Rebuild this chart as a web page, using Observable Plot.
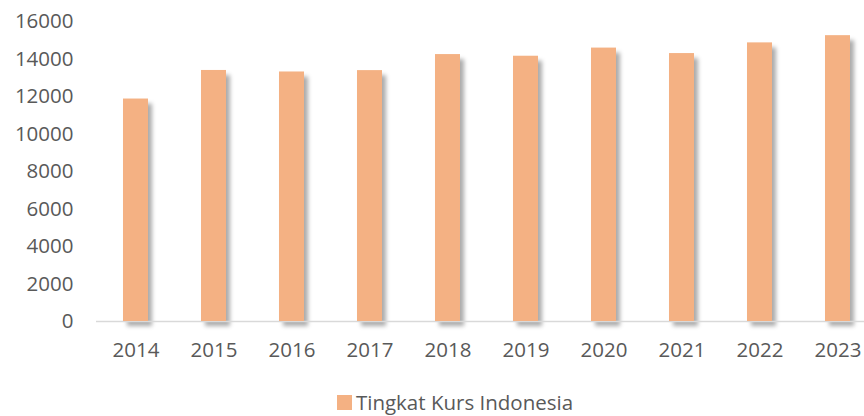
<!DOCTYPE html>
<html><head><meta charset="utf-8">
<script src="https://cdn.jsdelivr.net/npm/d3@7"></script>
<script src="https://cdn.jsdelivr.net/npm/@observablehq/plot@0.6"></script>
<style>
body{margin:0;background:#fff;overflow:hidden;}
#legend{height:28px;margin-top:8px;font-family:"Open Sans",sans-serif;font-size:20.5px;line-height:28px;color:#595959;display:flex;justify-content:center;align-items:center;padding-left:46px;box-sizing:border-box;}
#legend span.sw{display:inline-block;width:15px;height:15px;background:#F4B183;margin-right:4px;}
</style></head>
<body><div id="chart"></div><div id="legend"><span class="sw"></span><span>Tingkat Kurs Indonesia</span></div>
<script>
const years = ["2014","2015","2016","2017","2018","2019","2020","2021","2022","2023"];
const values = [11865, 13389, 13308, 13381, 14236, 14148, 14582, 14290, 14860, 15245];
const yTicks = [0,2000,4000,6000,8000,10000,12000,14000,16000];
const data = years.map((y,i)=>({year:y, value:values[i]}));
const plot = Plot.plot({
  width: 864, height: 380,
  marginLeft: 96, marginRight: 0, marginTop: 21, marginBottom: 59,
  style: {fontFamily: "'Open Sans', sans-serif", fontSize: "20.5px", color: "#595959", background: "#fff", display: "block"},
  x: {domain: years, range: [96.5, 876.5], paddingInner: 0.68, paddingOuter: 0.34, label: null, tickSize: 0, tickPadding: 21},
  y: {domain: [0,16000], ticks: yTicks, label: null, tickSize: 0, tickPadding: 23, tickFormat: d=>String(d)},
  marks: [
    Plot.barY(data, {x:"year", y:"value", fill:"#000", fillOpacity:0.33, dx:4, dy:5, imageFilter:"blur(2px)"}),
    Plot.ruleY([0], {stroke:"#d9d9d9", strokeWidth:1.3}),
    Plot.barY(data, {x:"year", y:"value", fill:"#F4B183"})
  ]
});
document.getElementById("chart").appendChild(plot);
</script></body></html>
